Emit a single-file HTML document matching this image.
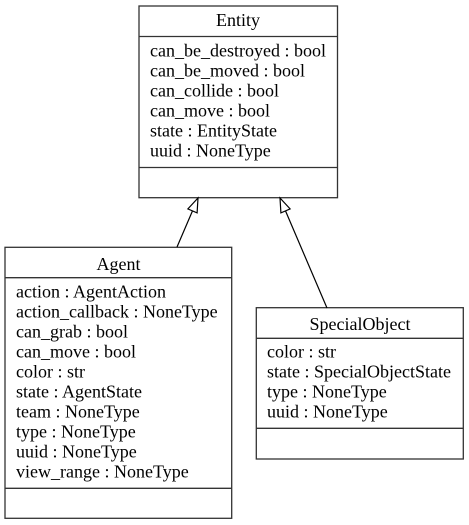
<!DOCTYPE html>
<html><head><meta charset="utf-8"><style>
html,body{margin:0;padding:0;background:#fff;}
svg{display:block;}
text{font-family:"Liberation Serif","DejaVu Serif",serif;font-size:18px;fill:#000;}
</style></head><body>
<svg width="469" height="525" viewBox="0 0 469 525" xmlns="http://www.w3.org/2000/svg">
<g fill="none" stroke="#333" stroke-width="1.3">
<rect x="139" y="6" width="198.5" height="191.7"/>
<line x1="139" y1="36.5" x2="337.5" y2="36.5"/>
<line x1="139" y1="167.5" x2="337.5" y2="167.5"/>
<rect x="5" y="247.3" width="226.7" height="271"/>
<line x1="5" y1="277.7" x2="231.7" y2="277.7"/>
<line x1="5" y1="488.3" x2="231.7" y2="488.3"/>
<rect x="256.3" y="307.7" width="207" height="151.3"/>
<line x1="256.3" y1="338.3" x2="463.3" y2="338.3"/>
<line x1="256.3" y1="428.3" x2="463.3" y2="428.3"/>
</g>
<g stroke="#000" stroke-width="1.2" fill="#fff">
<line x1="177" y1="247" x2="192.5" y2="210.9"/>
<polygon points="198,198 197.1,212.9 187.9,208.9"/>
<line x1="327" y1="308" x2="285.5" y2="210.9"/>
<polygon points="280,198 290.1,208.9 280.9,212.9"/>
</g>
<text x="238" y="26" text-anchor="middle">Entity</text>
<text x="150" y="56.7">can_be_destroyed : bool</text>
<text x="150" y="76.7">can_be_moved : bool</text>
<text x="150" y="96.7">can_collide : bool</text>
<text x="150" y="116.7">can_move : bool</text>
<text x="150" y="136.7">state : EntityState</text>
<text x="150" y="156.7">uuid : NoneType</text>
<text x="118.5" y="270" text-anchor="middle">Agent</text>
<text x="16" y="297.3">action : AgentAction</text>
<text x="16" y="317.3">action_callback : NoneType</text>
<text x="16" y="337.3">can_grab : bool</text>
<text x="16" y="357.3">can_move : bool</text>
<text x="16" y="377.3">color : str</text>
<text x="16" y="397.3">state : AgentState</text>
<text x="16" y="417.3">team : NoneType</text>
<text x="16" y="437.3">type : NoneType</text>
<text x="16" y="457.3">uuid : NoneType</text>
<text x="16" y="477.3">view_range : NoneType</text>
<text x="360" y="330" text-anchor="middle">SpecialObject</text>
<text x="267" y="357.3">color : str</text>
<text x="267" y="377.3">state : SpecialObjectState</text>
<text x="267" y="397.3">type : NoneType</text>
<text x="267" y="417.3">uuid : NoneType</text>
</svg>
</body></html>
